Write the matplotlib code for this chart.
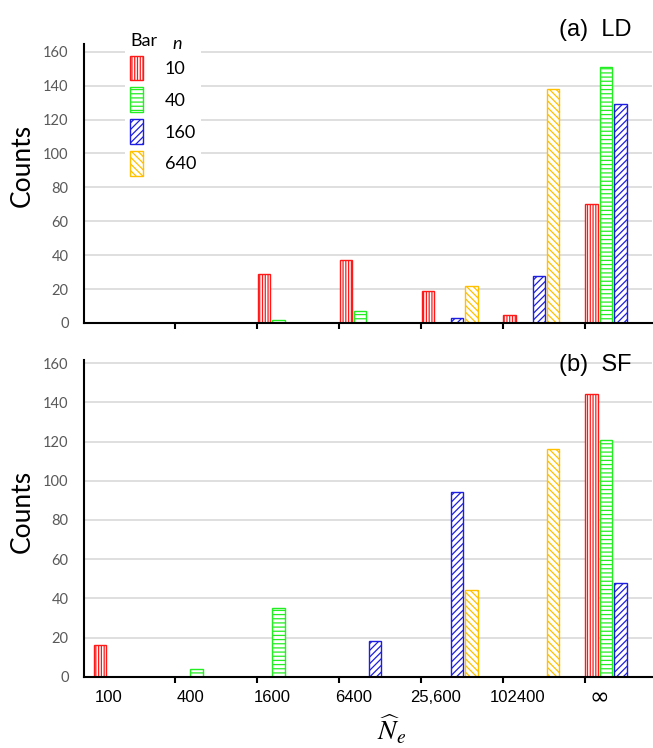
import matplotlib
matplotlib.use("Agg")
import matplotlib.pyplot as plt
from matplotlib.patches import Patch
from matplotlib.transforms import ScaledTranslation
import numpy as np

plt.rcParams['hatch.linewidth'] = 0.9
plt.rcParams['mathtext.fontset'] = 'stix'

# ---------------- data ----------------
categories = ["100", "400", "1600", "6400", "25,600", "102400", "\u221e"]
series_labels = ["10", "40", "160", "640"]

ld_n10 = [0, 0, 29, 37, 19, 5, 70]
ld_n40 = [0, 0, 2, 7, 0, 0, 151]
ld_n160 = [0, 0, 0, 0, 3, 28, 129]
ld_n640 = [0, 0, 0, 0, 22, 138, 0]

sf_n10 = [16, 0, 0, 0, 0, 0, 144]
sf_n40 = [0, 4, 35, 0, 0, 0, 121]
sf_n160 = [0, 0, 0, 18, 94, 0, 48]
sf_n640 = [0, 0, 0, 0, 44, 116, 0]

y_ticks = [0, 20, 40, 60, 80, 100, 120, 140, 160]

# ---------------- style ----------------
colors = ['#FF1A1A', '#22EE22', '#1E1EE0', '#FFC000']
hatches = ['||||||', '----', '/////', '\\\\\\\\\\']
grid_color = '#D9D9D9'
tick_gray = '#595959'
calibri_like = 'Lato'
arial_like = 'Liberation Sans'

W, H = 653, 748
fig = plt.figure(figsize=(W / 100, H / 100), dpi=100)
ax1 = fig.add_axes([84 / W, 425 / H, 568 / W, 279 / H])
ax2 = fig.add_axes([84 / W, 71.3 / H, 568 / W, 316.7 / H])

x = np.arange(len(categories))
step = 0.178
width = 0.15
offset0 = 0.005


def draw_panel(ax, data, ymax, title, title_y, show_labels):
    for j, vals in enumerate(data):
        ax.bar(x + offset0 + j * step, vals, width=width, align='edge',
               facecolor='white', edgecolor=colors[j], hatch=hatches[j],
               linewidth=1.0, zorder=3)
    ax.set_xlim(-0.117, 6.82)
    ax.set_ylim(0, ymax)
    ax.set_yticks(y_ticks)
    ax.set_yticklabels([str(v) for v in y_ticks], fontfamily=calibri_like,
                       fontsize=10.5, color=tick_gray)
    ax.tick_params(axis='y', length=0, pad=11)
    for v in y_ticks[1:]:
        ax.axhline(v, color=grid_color, lw=1.2, zorder=1)
    for s in ['top', 'right']:
        ax.spines[s].set_visible(False)
    for s in ['left', 'bottom']:
        ax.spines[s].set_linewidth(1.5)
        ax.spines[s].set_color('black')
        ax.spines[s].set_zorder(4)
    ax.set_xticks(x[1:])
    ax.set_xticklabels([])
    ax.tick_params(axis='x', which='major', length=4, width=1.5, direction='out')
    if show_labels:
        ax.set_xticks(x + 0.18, minor=True)
        ax.set_xticklabels(categories, minor=True,
                           fontfamily=arial_like, fontsize=12)
        ax.tick_params(axis='x', which='minor', length=0, pad=9.5)
        inf_label = ax.get_xticklabels(minor=True)[-1]
        inf_label.set_fontsize(17)
        inf_label.set_fontfamily('DejaVu Sans')
        inf_label.set_transform(inf_label.get_transform() +
                                ScaledTranslation(0, 3.5 / 72, fig.dpi_scale_trans))
    ax.text(0.9, title_y, title, transform=ax.transAxes, ha='center',
            va='center', fontfamily=arial_like, fontsize=17)


draw_panel(ax1, [ld_n10, ld_n40, ld_n160, ld_n640], 164.6, "(a)  LD", 1.05, False)
draw_panel(ax2, [sf_n10, sf_n40, sf_n160, sf_n640], 161.6, "(b)  SF", 0.984, True)

# y labels
ax1.text(-0.109, 0.563, "Counts", transform=ax1.transAxes, rotation=90,
         ha='center', va='center', fontfamily=calibri_like, fontsize=19)
ax2.text(-0.109, 0.523, "Counts", transform=ax2.transAxes, rotation=90,
         ha='center', va='center', fontfamily=calibri_like, fontsize=19)

# x label
ax2.text(0.542, -0.168, r"$\widehat{N}_e$", transform=ax2.transAxes,
         ha='center', va='center', fontsize=20)

# legend
handles = [Patch(facecolor='white', edgecolor=c, hatch=h, linewidth=1.0)
           for c, h in zip(colors, hatches)]
leg = ax1.legend(handles, series_labels, loc='upper left',
                 bbox_to_anchor=(0.072, 1.06), frameon=True,
                 facecolor='white', edgecolor='none', framealpha=1,
                 fancybox=False, title="Bar", alignment='left',
                 prop={'family': calibri_like, 'size': 13},
                 title_fontproperties={'family': calibri_like, 'size': 13},
                 handlelength=0.7, handleheight=1.75, labelspacing=0.38,
                 handletextpad=1.2, borderpad=0.3, borderaxespad=0)
leg.set_zorder(5)
ax1.text(0.155, 1.0, "n", transform=ax1.transAxes, ha='left', va='center',
         fontfamily=calibri_like, fontstyle='italic', fontsize=13, zorder=10)

fig.savefig("out.png", dpi=100)
